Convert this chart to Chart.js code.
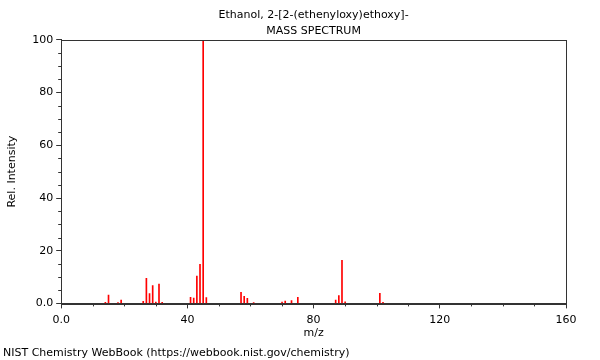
<!DOCTYPE html>
<html>
<head>
<meta charset="utf-8">
<script src="https://cdn.jsdelivr.net/npm/chart.js@4/dist/chart.umd.min.js"></script>
<style>
  html, body { margin: 0; padding: 0; background: #fff; }
  #wrap { width: 600px; height: 360px; }
</style>
</head>
<body>
<div id="wrap"><canvas id="spectrum"></canvas></div>
<script>
  // m/z 값과 상대 강도
  const mz = [14, 15, 18, 19, 26, 27, 28, 29, 30, 31, 32, 41, 42, 43, 44, 45, 46,
              57, 58, 59, 61, 70, 71, 73, 75, 87, 88, 89, 90, 101, 102];
  const intensity = [0.4, 3.2, 0.3, 1.3, 0.8, 9.5, 3.7, 6.8, 0.5, 7.3, 0.4, 2.3, 2.0, 10.4, 14.8, 100, 2.2,
                     4.2, 2.7, 1.9, 0.3, 0.5, 0.9, 1.1, 2.3, 1.3, 3.0, 16.3, 0.6, 3.8, 0.4];
  const xTicks = [0, 40, 80, 120, 160];
  const yTicks = [0, 20, 40, 60, 80, 100];

  const FONT = { family: 'DejaVu Sans', size: 11 };
  const INK = '#333';

  // 보조 눈금 + 테두리
  const frame = {
    id: 'frame',
    afterDraw(chart) {
      const { ctx, chartArea: a, scales } = chart;
      ctx.save();
      ctx.strokeStyle = INK;
      ctx.lineWidth = 1;
      ctx.beginPath();
      for (let v = 0; v <= 160; v += 10) {
        if (v % 40 === 0) continue;
        const px = Math.round(scales.x.getPixelForValue(v)) + 0.5;
        ctx.moveTo(px, a.bottom);
        ctx.lineTo(px, a.bottom + 3);
      }
      for (let v = 0; v <= 100; v += 5) {
        if (v % 20 === 0) continue;
        const py = Math.round(scales.y.getPixelForValue(v)) + 0.5;
        ctx.moveTo(a.left - 3, py);
        ctx.lineTo(a.left, py);
      }
      ctx.stroke();
      ctx.strokeRect(Math.round(a.left) + 0.5, Math.round(a.top) + 0.5,
                     Math.round(a.right - a.left), Math.round(a.bottom - a.top));
      ctx.restore();
    }
  };

  new Chart(document.getElementById('spectrum'), {
    type: 'bar',
    data: {
      datasets: [{
        data: mz.map((m, i) => ({ x: m, y: intensity[i] })),
        backgroundColor: '#ff0000',
        borderWidth: 0,
        barThickness: 1
      }]
    },
    options: {
      responsive: true,
      maintainAspectRatio: false,
      animation: false,
      layout: { padding: { left: 3, right: 34, top: 0, bottom: 0 } },
      plugins: {
        legend: { display: false },
        tooltip: { enabled: false },
        title: {
          display: true,
          fullSize: false,
          text: ['Ethanol, 2-[2-(ethenyloxy)ethoxy]-', 'MASS SPECTRUM'],
          color: '#000',
          font: { ...FONT, weight: 'normal', lineHeight: 1.45 },
          padding: { top: 7, bottom: 1 }
        },
        subtitle: {
          display: true,
          position: 'bottom',
          align: 'start',
          text: 'NIST Chemistry WebBook (https://webbook.nist.gov/chemistry)',
          color: '#000',
          font: FONT,
          padding: { top: 7, bottom: 0 }
        }
      },
      scales: {
        x: {
          type: 'linear',
          min: 0,
          max: 160,
          offset: false,
          afterBuildTicks: s => { s.ticks = xTicks.map(v => ({ value: v })); },
          ticks: {
            color: '#000',
            font: FONT,
            padding: 5,
            maxRotation: 0,
            callback: v => v === 0 ? '0.0' : String(v)
          },
          grid: { drawOnChartArea: false, offset: false, tickLength: 5, color: INK },
          border: { color: INK },
          title: { display: true, text: 'm/z', color: '#000', font: FONT, padding: { top: -5, bottom: 0 } }
        },
        y: {
          min: 0,
          max: 100,
          afterBuildTicks: s => { s.ticks = yTicks.map(v => ({ value: v })); },
          ticks: {
            color: '#000',
            font: FONT,
            padding: 3,
            callback: v => v === 0 ? '0.0' : String(v)
          },
          grid: { drawOnChartArea: false, tickLength: 5, color: INK },
          border: { color: INK },
          title: { display: true, text: 'Rel. Intensity', color: '#000', font: FONT, padding: { top: 3, bottom: 10 } }
        }
      }
    },
    plugins: [frame]
  });
</script>
</body>
</html>
